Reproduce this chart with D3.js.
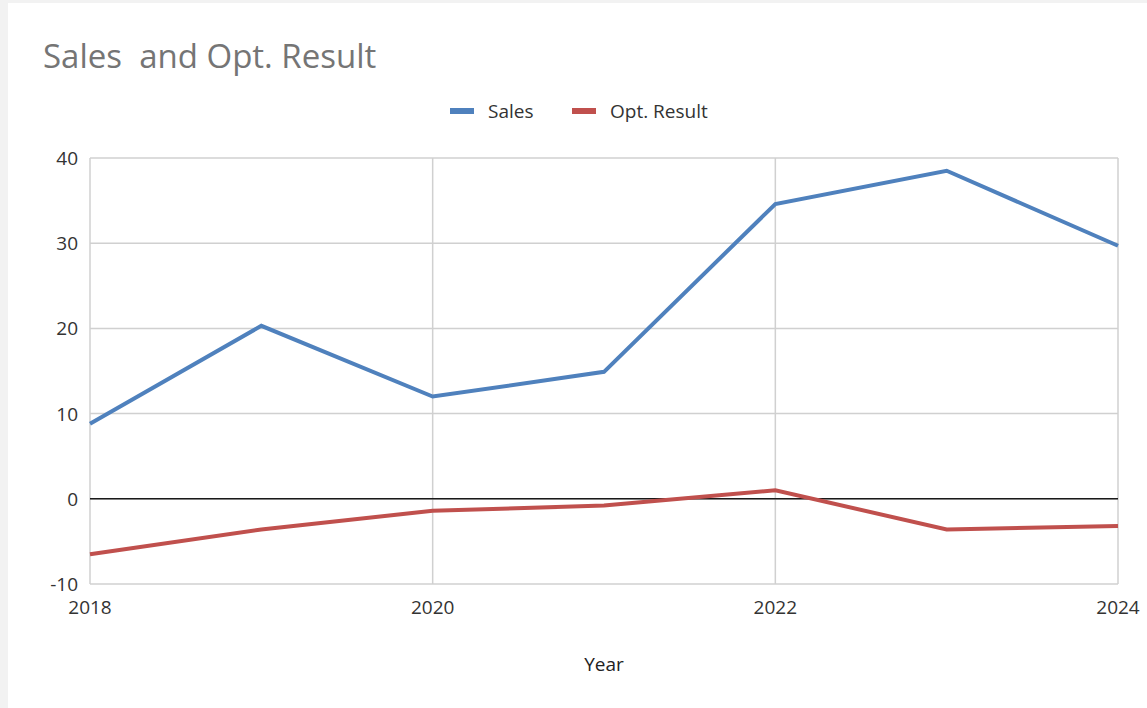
<!DOCTYPE html>
<html lang="en">
<head>
<meta charset="UTF-8">
<title>Sales and Opt. Result</title>
<style>
  body { margin: 0; background: #f2f2f2; }
  svg { display: block; font-family: "Open Sans", "Noto Sans", sans-serif; }
</style>
</head>
<body>
<script src="https://d3js.org/d3.v7.min.js"></script>
<script>
  // data
  var years = [2018, 2019, 2020, 2021, 2022, 2023, 2024];
  var sales = [8.8, 20.3, 12.0, 14.9, 34.6, 38.5, 29.7];
  var optResult = [-6.5, -3.6, -1.4, -0.8, 1.0, -3.6, -3.2];
  var xTicks = [2018, 2020, 2022, 2024];
  var yTicks = [-10, 0, 10, 20, 30, 40];

  const W = 1147, H = 708;
  const plotL = 90, plotR = 1118, plotT = 158, plotB = 584;

  const svg = d3.select("body").append("svg")
    .attr("width", W).attr("height", H);

  // white card
  svg.append("rect")
    .attr("x", 8).attr("y", 3)
    .attr("width", W - 8).attr("height", H - 3)
    .attr("fill", "#fff");

  var x = d3.scaleLinear().domain([2018, 2024]).range([plotL, plotR]);
  var y = d3.scaleLinear().domain([-10, 40]).range([plotB, plotT]);

  // gridlines
  svg.append("g").selectAll("line")
    .data(yTicks)
    .enter().append("line")
    .attr("x1", plotL).attr("x2", plotR)
    .attr("y1", d => y(d)).attr("y2", d => y(d))
    .attr("stroke", "#d0d0d0")
    .attr("stroke-width", 1.5);

  svg.append("g").selectAll("line")
    .data(xTicks)
    .enter().append("line")
    .attr("x1", d => x(d)).attr("x2", d => x(d))
    .attr("y1", plotT).attr("y2", plotB)
    .attr("stroke", "#d0d0d0")
    .attr("stroke-width", 1.5);

  // zero line on top of the grid
  svg.append("line")
    .attr("x1", plotL).attr("x2", plotR)
    .attr("y1", y(0)).attr("y2", y(0))
    .attr("stroke", "#1a1a1a").attr("stroke-width", 1.5);

  // y tick labels
  svg.append("g").selectAll("text")
    .data(yTicks)
    .enter().append("text")
    .attr("x", 78).attr("y", d => y(d) + 7)
    .attr("text-anchor", "end")
    .attr("font-size", 19).attr("fill", "#333")
    .text(d => d);

  // x tick labels
  svg.append("g").selectAll("text")
    .data(xTicks)
    .enter().append("text")
    .attr("x", d => x(d)).attr("y", 614)
    .attr("text-anchor", "middle")
    .attr("font-size", 19).attr("fill", "#333")
    .text(d => d);

  svg.append("text")
    .attr("x", 604).attr("y", 671)
    .attr("text-anchor", "middle")
    .attr("font-size", 19).attr("fill", "#222")
    .text("Year");

  // lines
  var line = d3.line()
    .x(d => x(d[0]))
    .y(d => y(d[1]));

  svg.append("path")
    .datum(years.map((yr, i) => [yr, optResult[i]]))
    .attr("d", line)
    .attr("fill", "none")
    .attr("stroke", "#c0504d")
    .attr("stroke-width", 4);

  svg.append("path")
    .datum(years.map((yr, i) => [yr, sales[i]]))
    .attr("d", line)
    .attr("fill", "none")
    .attr("stroke", "#4f81bd")
    .attr("stroke-width", 4);

  // title
  svg.append("text")
    .attr("x", 43).attr("y", 68)
    .attr("font-size", 33).attr("fill", "#757575")
    .style("white-space", "pre")
    .text("Sales  and Opt. Result");

  // legend
  var legend = [
    { name: "Sales", color: "#4f81bd", sx: 450, tx: 488 },
    { name: "Opt. Result", color: "#c0504d", sx: 572, tx: 610 }
  ];
  var lg = svg.append("g").selectAll("g")
    .data(legend)
    .enter().append("g");
  lg.append("rect")
    .attr("x", d => d.sx).attr("y", 108)
    .attr("width", 24).attr("height", 6)
    .attr("fill", d => d.color);
  lg.append("text")
    .attr("x", d => d.tx).attr("y", 118)
    .attr("font-size", 19).attr("fill", "#333")
    .text(d => d.name);
</script>
</body>
</html>
